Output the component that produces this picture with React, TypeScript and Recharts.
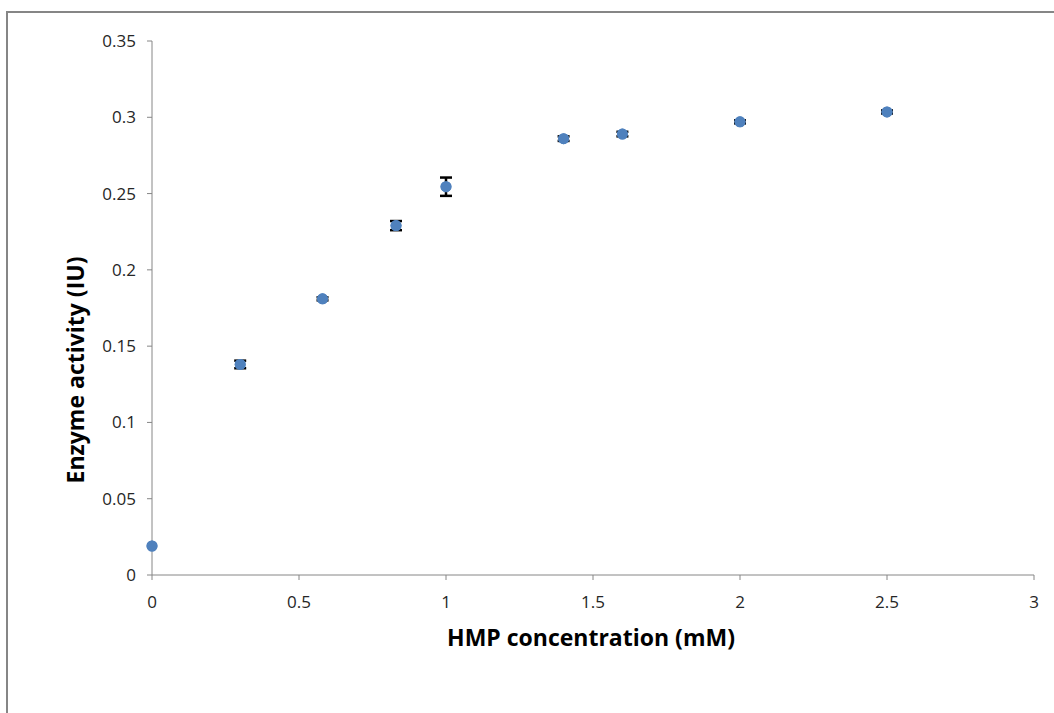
import { ErrorBar, Scatter, ScatterChart, XAxis, YAxis } from 'recharts'

const concentrations = [0, 0.3, 0.58, 0.83, 1.0, 1.4, 1.6, 2.0, 2.5]
const activities = [0.019, 0.138, 0.181, 0.229, 0.2545, 0.286, 0.289, 0.297, 0.3035]
const errors = [0, 0.0025, 0.001, 0.003, 0.006, 0.0015, 0.0015, 0.001, 0.001]

const xTicks = [0, 0.5, 1, 1.5, 2, 2.5, 3]
const yTicks = [0, 0.05, 0.1, 0.15, 0.2, 0.25, 0.3, 0.35]

const axisColor = '#868686'
const font = '"Open Sans", "Liberation Sans", sans-serif'

const data = concentrations.map((x, i) => ({
  x,
  y: activities[i],
  err: errors[i],
}))

function Dot(props: any) {
  const { cx, cy } = props
  return <circle cx={cx} cy={cy} r={5.5} fill="#4F81BD" />
}

function XTick(props: any) {
  const { x, payload } = props
  return (
    <text x={x} y={608} textAnchor="middle" fontFamily={font} fontSize={17} fill="#262626">
      {payload.value}
    </text>
  )
}

function YTick(props: any) {
  const { y, payload } = props
  return (
    <text x={136} y={y + 6} textAnchor="end" fontFamily={font} fontSize={17} fill="#262626">
      {payload.value}
    </text>
  )
}

export default function App() {
  return (
    <div style={{ position: 'absolute', left: 0, top: 0, width: 1054, height: 713, overflow: 'hidden', background: '#fff' }}>
      <div
        style={{
          position: 'absolute',
          left: 6,
          top: 11,
          width: 1100,
          height: 760,
          borderLeft: `2px solid ${axisColor}`,
          borderTop: `2px solid ${axisColor}`,
        }}
      />
      <div style={{ position: 'absolute', left: 0, top: 0 }}>
        <ScatterChart width={1054} height={713} margin={{ top: 41, right: 20, bottom: 108, left: 0 }}>
          <XAxis
            type="number"
            dataKey="x"
            domain={[0, 3]}
            ticks={xTicks}
            height={30}
            stroke={axisColor}
            tickSize={5}
            tick={<XTick />}
          />
          <YAxis
            type="number"
            dataKey="y"
            domain={[0, 0.35]}
            ticks={yTicks}
            width={152}
            stroke={axisColor}
            tickSize={5}
            tick={<YTick />}
          />
          <Scatter data={data} shape={<Dot />} isAnimationActive={false}>
            <ErrorBar dataKey="err" direction="y" width={6} stroke="#000" strokeWidth={2.5} />
          </Scatter>
          <Scatter data={data} shape={<Dot />} isAnimationActive={false} />
          <text
            x={591}
            y={646}
            textAnchor="middle"
            fontFamily={font}
            fontSize={23}
            fontWeight="bold"
            fill="#000"
          >
            HMP concentration (mM)
          </text>
          <text
            x={84}
            y={370}
            transform="rotate(-90 84 370)"
            textAnchor="middle"
            fontFamily={font}
            fontSize={23}
            fontWeight="bold"
            fill="#000"
          >
            Enzyme activity (IU)
          </text>
        </ScatterChart>
      </div>
    </div>
  )
}
